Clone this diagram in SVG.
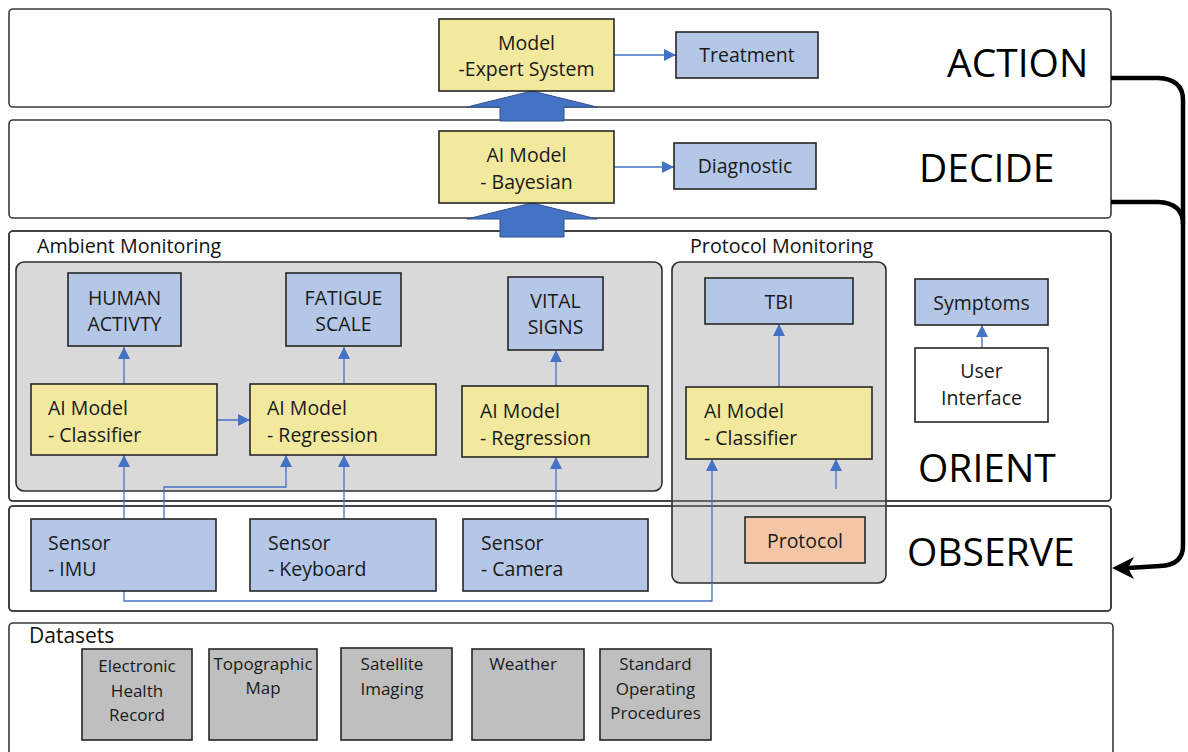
<svg xmlns="http://www.w3.org/2000/svg" width="1188" height="752" viewBox="0 0 1188 752">
  <defs>
    <marker id="ab" viewBox="0 0 10 10" refX="10" refY="5" markerWidth="12" markerHeight="12" markerUnits="userSpaceOnUse" orient="auto">
      <path d="M0,0 L10,5 L0,10 z" fill="#4472c4"/>
    </marker>
    <style>
      .layer { fill: #ffffff; stroke: #3a3a3a; stroke-width: 1.6; }
      .layerline { fill: none; stroke: #3a3a3a; stroke-width: 1.6; }
      .grp { fill: #d9d9d9; stroke: #2e2e2e; stroke-width: 1.6; }
      .yel { fill: #f2e99e; stroke: #262626; stroke-width: 1.6; }
      .blu { fill: #b4c7e7; stroke: #262626; stroke-width: 1.6; }
      .wht { fill: #ffffff; stroke: #262626; stroke-width: 1.6; }
      .pch { fill: #f4c6a6; stroke: #262626; stroke-width: 1.6; }
      .gry { fill: #bfbfbf; stroke: #262626; stroke-width: 1.6; }
      .t { font-family: "Open Sans", "Noto Sans", sans-serif; font-size: 19.5px; fill: #1a1a1a; }
      .c { text-anchor: middle; }
      .g { font-family: "Open Sans", "Noto Sans", sans-serif; font-size: 19.7px; fill: #111; }
      .d { font-family: "Open Sans", "Noto Sans", sans-serif; font-size: 17px; fill: #1a1a1a; text-anchor: middle; }
      .big { font-family: "Open Sans", "Noto Sans", sans-serif; font-size: 39px; fill: #000; }
      .con { fill: none; stroke: #4472c4; stroke-width: 1.3; }
      .fb { fill: none; stroke: #000; stroke-width: 4.5; }
      .blk { fill: #4472c4; stroke: #2f528f; stroke-width: 1; }
    </style>
  </defs>

  <!-- layers -->
  <g id="layers">
    <rect id="layer-action" class="layer" x="9" y="9" width="1102" height="98" rx="4"/>
    <rect id="layer-decide" class="layer" x="9" y="120" width="1102" height="98" rx="4"/>
    <rect id="layer-orient" class="layer" x="9" y="231" width="1102" height="270" rx="4"/>
    <rect id="layer-observe" class="layer" x="9" y="506" width="1102" height="105" rx="4"/>
    <rect id="layer-datasets" class="layer" x="9" y="623" width="1104" height="140" rx="4"/>
  </g>

  <!-- groups -->
  <g id="ambient-monitoring">
    <rect class="grp" x="16" y="262" width="646" height="229" rx="8"/>
    <text class="g" x="37" y="253">Ambient Monitoring</text>
  </g>
  <g id="protocol-monitoring">
    <rect class="grp" x="672" y="262" width="214" height="321" rx="8"/>
    <text class="g" x="690" y="253">Protocol Monitoring</text>
  </g>
  <g id="layer-borders-over">
    <rect class="layerline" x="9" y="231" width="1102" height="270" rx="4"/>
    <rect class="layerline" x="9" y="506" width="1102" height="105" rx="4"/>
  </g>

  <!-- layer labels -->
  <g id="labels">
    <text class="big" x="947" y="77">ACTION</text>
    <text class="big" x="919" y="182">DECIDE</text>
    <text class="big" x="918" y="482">ORIENT</text>
    <text class="big" x="907" y="566">OBSERVE</text>
    <text class="g" x="29" y="643" style="font-size:21px">Datasets</text>
  </g>

  <!-- connectors -->
  <g id="connectors">
    <path class="blk" d="M500,121 L500,107 L467,107 L532,91 L597,107 L564,107 L564,121 z"/>
    <path class="blk" d="M500,237 L500,219 L467,219 L532,203 L597,219 L564,219 L564,237 z"/>
    <line class="con" x1="614" y1="55" x2="676" y2="55" marker-end="url(#ab)"/>
    <line class="con" x1="614" y1="167" x2="674" y2="167" marker-end="url(#ab)"/>
    <line class="con" x1="124" y1="384" x2="124" y2="347" marker-end="url(#ab)"/>
    <line class="con" x1="344" y1="384" x2="344" y2="347" marker-end="url(#ab)"/>
    <line class="con" x1="556" y1="386" x2="556" y2="350" marker-end="url(#ab)"/>
    <line class="con" x1="779" y1="387" x2="779" y2="324" marker-end="url(#ab)"/>
    <line class="con" x1="982" y1="348" x2="982" y2="325" marker-end="url(#ab)"/>
    <line class="con" x1="217" y1="420" x2="250" y2="420" marker-end="url(#ab)"/>
    <line class="con" x1="124" y1="519" x2="124" y2="455" marker-end="url(#ab)"/>
    <path class="con" d="M164,519 L164,487 L286,487 L286,455" marker-end="url(#ab)"/>
    <line class="con" x1="344" y1="519" x2="344" y2="455" marker-end="url(#ab)"/>
    <line class="con" x1="556" y1="519" x2="556" y2="457" marker-end="url(#ab)"/>
    <path class="con" d="M124,591 L124,601 L712,601 L712,459" marker-end="url(#ab)"/>
    <line class="con" x1="836" y1="489" x2="836" y2="459" marker-end="url(#ab)"/>
    <path class="fb" d="M1111,78 L1158,78 Q1183,79 1183,100 L1183,546 Q1183,565 1160,566 L1128,568"/>
    <path class="fb" d="M1111,202 L1158,202 Q1183,203 1183,224"/>
    <path d="M1112,568 L1134,557 L1128,568 L1134,579 z" fill="#000"/>
  </g>

  <!-- nodes -->
  <g id="model-expert-system">
    <rect class="yel" x="439" y="19" width="175" height="72"/>
    <text class="t c" x="526.5" y="50">Model</text>
    <text class="t c" x="526.5" y="76">-Expert System</text>
  </g>
  <g id="treatment">
    <rect class="blu" x="676" y="32" width="142" height="46"/>
    <text class="t c" x="747" y="62">Treatment</text>
  </g>
  <g id="ai-model-bayesian">
    <rect class="yel" x="439" y="131" width="175" height="72"/>
    <text class="t c" x="526.5" y="162">AI Model</text>
    <text class="t c" x="526.5" y="189">- Bayesian</text>
  </g>
  <g id="diagnostic">
    <rect class="blu" x="674" y="143" width="142" height="46"/>
    <text class="t c" x="745" y="173">Diagnostic</text>
  </g>

  <g id="human-activity">
    <rect class="blu" x="68" y="273" width="113" height="73"/>
    <text class="t c" x="124.5" y="305">HUMAN</text>
    <text class="t c" x="124.5" y="331">ACTIVTY</text>
  </g>
  <g id="fatigue-scale">
    <rect class="blu" x="286" y="273" width="115" height="73"/>
    <text class="t c" x="343.5" y="305">FATIGUE</text>
    <text class="t c" x="343.5" y="331">SCALE</text>
  </g>
  <g id="vital-signs">
    <rect class="blu" x="508" y="277" width="95" height="73"/>
    <text class="t c" x="555.5" y="308">VITAL</text>
    <text class="t c" x="555.5" y="334">SIGNS</text>
  </g>
  <g id="ai-model-classifier">
    <rect class="yel" x="31" y="384" width="186" height="71"/>
    <text class="t" x="48" y="415">AI Model</text>
    <text class="t" x="48" y="442">- Classifier</text>
  </g>
  <g id="ai-model-regression-1">
    <rect class="yel" x="250" y="384" width="186" height="71"/>
    <text class="t" x="267" y="415">AI Model</text>
    <text class="t" x="267" y="442">- Regression</text>
  </g>
  <g id="ai-model-regression-2">
    <rect class="yel" x="462" y="386" width="186" height="71"/>
    <text class="t" x="480" y="418">AI Model</text>
    <text class="t" x="480" y="445">- Regression</text>
  </g>
  <g id="tbi">
    <rect class="blu" x="705" y="278" width="148" height="46"/>
    <text class="t c" x="779" y="309">TBI</text>
  </g>
  <g id="ai-model-classifier-protocol">
    <rect class="yel" x="686" y="387" width="186" height="72"/>
    <text class="t" x="704" y="418">AI Model</text>
    <text class="t" x="704" y="445">- Classifier</text>
  </g>
  <g id="symptoms">
    <rect class="blu" x="915" y="279" width="133" height="46"/>
    <text class="t c" x="981.5" y="310">Symptoms</text>
  </g>
  <g id="user-interface">
    <rect class="wht" x="915" y="348" width="133" height="74"/>
    <text class="t c" x="981.5" y="378">User</text>
    <text class="t c" x="981.5" y="405">Interface</text>
  </g>

  <g id="sensor-imu">
    <rect class="blu" x="31" y="519" width="185" height="72"/>
    <text class="t" x="48" y="550">Sensor</text>
    <text class="t" x="48" y="576">- IMU</text>
  </g>
  <g id="sensor-keyboard">
    <rect class="blu" x="250" y="519" width="186" height="72"/>
    <text class="t" x="268" y="550">Sensor</text>
    <text class="t" x="268" y="576">- Keyboard</text>
  </g>
  <g id="sensor-camera">
    <rect class="blu" x="463" y="519" width="185" height="72"/>
    <text class="t" x="481" y="550">Sensor</text>
    <text class="t" x="481" y="576">- Camera</text>
  </g>
  <g id="protocol">
    <rect class="pch" x="745" y="517" width="120" height="46"/>
    <text class="t c" x="805" y="548">Protocol</text>
  </g>

  <g id="electronic-health-record">
    <rect class="gry" x="82" y="649" width="110" height="91"/>
    <text class="d" x="137" y="672">Electronic</text>
    <text class="d" x="137" y="697">Health</text>
    <text class="d" x="137" y="721">Record</text>
  </g>
  <g id="topographic-map">
    <rect class="gry" x="209" y="649" width="108" height="91"/>
    <text class="d" x="263" y="670">Topographic</text>
    <text class="d" x="263" y="694">Map</text>
  </g>
  <g id="satellite-imaging">
    <rect class="gry" x="341" y="648" width="111" height="92"/>
    <text class="d" x="392" y="670">Satellite</text>
    <text class="d" x="392" y="695">Imaging</text>
  </g>
  <g id="weather">
    <rect class="gry" x="472" y="649" width="112" height="91"/>
    <text class="d" x="523" y="670">Weather</text>
  </g>
  <g id="standard-operating-procedures">
    <rect class="gry" x="600" y="649" width="111" height="91"/>
    <text class="d" x="655.5" y="670">Standard</text>
    <text class="d" x="655.5" y="695">Operating</text>
    <text class="d" x="655.5" y="719">Procedures</text>
  </g>
</svg>
